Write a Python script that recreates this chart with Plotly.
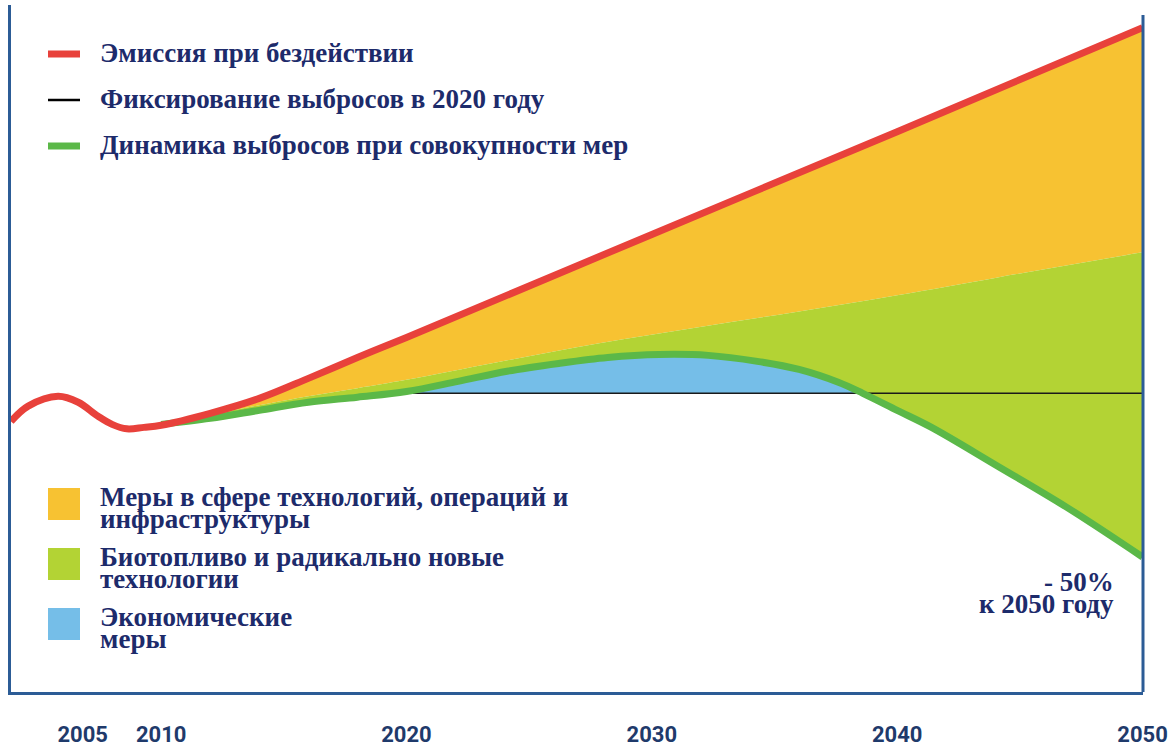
import plotly.graph_objects as go

# ---------------- data (index, fixed 2020 level = 100) ----------------
red_years = [2003.88, 2004.58, 2005.8, 2006.62, 2007.43, 2008.0, 2008.6, 2009.3, 2010,
             2012, 2014, 2016, 2018, 2020, 2030, 2040, 2050]
red_vals = [90.6, 95.7, 99.0, 97.0, 92.3, 89.6, 88.1, 88.6, 89.3,
            93.3, 98.3, 105.0, 112.0, 118.7, 153.2, 187.6, 222.4]

green_years = [2010, 2012, 2014, 2016, 2018, 2020, 2022.1, 2024.1, 2026.2, 2028.2,
               2030.3, 2032.3, 2034.3, 2036.0, 2037.6, 2038.6, 2040.0, 2041.4,
               2044.1, 2046.9, 2050]
green_vals = [89.6, 91.6, 94.3, 97.0, 98.7, 100.6, 104.0, 107.4, 110.0, 112.0,
              113.0, 112.7, 110.7, 108.0, 103.7, 100.0, 94.3, 88.6,
              75.6, 61.9, 45.2]

lime_years = [2010, 2014, 2016, 2018, 2020, 2023.7, 2027.8, 2031.9, 2036.0,
              2040.0, 2044.1, 2050]
lime_vals = [89.6, 96.0, 99.0, 101.7, 104.5, 110.4, 116.7, 122.1, 127.4,
             132.8, 138.8, 147.2]

fixed_years = [2020, 2050]
fixed_level = 100.0
blue_end_year = 2038.6

tick_positions = [2006.8, 2010, 2020, 2030, 2040, 2050]
tick_labels = ["2005", "2010", "2020", "2030", "2040", "2050"]

line_labels = ["Эмиссия при бездействии", "Фиксирование выбросов в 2020 году",
               "Динамика выбросов при совокупности мер"]
area_labels = [["Меры в сфере технологий, операций и", "инфраструктуры"],
               ["Биотопливо и радикально новые", "технологии"],
               ["Экономические", "меры"]]
note_lines = ["- 50%", "к 2050 году"]

# ---------------- style ----------------
RED = "#E8413B"
GREEN_LINE = "#5BB848"
LIME = "#B3D334"
ORANGE = "#F7C232"
BLUE = "#75BEE8"
NAVY = "#1D2B6B"
AXIS = "#2C5C96"
SERIF = "Liberation Serif, DejaVu Serif, serif"
FS = 27

W, H = 1168, 748
L, R, T, B = 11, 25, 5, 56

fig = go.Figure()

# orange area: between lime top and red line (from 2010)
i10 = red_years.index(2010)
fig.add_trace(go.Scatter(x=lime_years, y=lime_vals, mode="lines", line=dict(width=0, shape="spline"),
                         hoverinfo="skip", showlegend=False))
fig.add_trace(go.Scatter(x=red_years[i10:], y=red_vals[i10:], mode="lines",
                         line=dict(width=0, shape="spline"), fill="tonexty", fillcolor=ORANGE,
                         hoverinfo="skip", showlegend=False))
# lime area: between green line and lime top
fig.add_trace(go.Scatter(x=green_years, y=green_vals, mode="lines", line=dict(width=0, shape="spline"),
                         hoverinfo="skip", showlegend=False))
fig.add_trace(go.Scatter(x=lime_years, y=lime_vals, mode="lines", line=dict(width=0, shape="spline"),
                         fill="tonexty", fillcolor=LIME, hoverinfo="skip", showlegend=False))
# blue area: between fixed level and green line where green is above
ib0 = green_years.index(2020)
ib1 = green_years.index(blue_end_year)
fig.add_trace(go.Scatter(x=[2020, blue_end_year], y=[fixed_level, fixed_level], mode="lines",
                         line=dict(width=0), hoverinfo="skip", showlegend=False))
fig.add_trace(go.Scatter(x=green_years[ib0:ib1 + 1], y=green_vals[ib0:ib1 + 1], mode="lines",
                         line=dict(width=0, shape="spline"), fill="tonexty", fillcolor=BLUE,
                         hoverinfo="skip", showlegend=False))
# fixed 2020 line
fig.add_trace(go.Scatter(x=fixed_years, y=[fixed_level] * len(fixed_years), mode="lines",
                         line=dict(color="#1a1a1a", width=1.5), showlegend=False))
# green line
fig.add_trace(go.Scatter(x=green_years, y=green_vals, mode="lines",
                         line=dict(color=GREEN_LINE, width=7, shape="spline"), showlegend=False))
# red line
fig.add_trace(go.Scatter(x=red_years, y=red_vals, mode="lines",
                         line=dict(color=RED, width=7, shape="spline"), showlegend=False))


def px(x):
    return (x - L) / (W - L - R)


def py(y):
    return (H - B - y) / (H - T - B)


shapes = []
annotations = []
# right frame line (starts slightly below the top)
shapes.append(dict(type="line", xref="paper", yref="paper", x0=1, x1=1, y0=0, y1=py(15),
                   line=dict(color=AXIS, width=3)))
# line legend
for lab, col, wid, yy in zip(line_labels, [RED, "#000000", GREEN_LINE], [7, 2.5, 7], [54, 100, 146]):
    shapes.append(dict(type="line", xref="paper", yref="paper", x0=px(48), x1=px(80),
                       y0=py(yy), y1=py(yy), line=dict(color=col, width=wid)))
    annotations.append(dict(xref="paper", yref="paper", x=px(98), y=py(yy - 1), text="<b>%s</b>" % lab,
                            showarrow=False, xanchor="left", yanchor="middle",
                            font=dict(family=SERIF, size=FS, color=NAVY)))
# area legend
for lines, col, top in zip(area_labels, [ORANGE, LIME, BLUE], [488, 548, 608]):
    shapes.append(dict(type="rect", xref="paper", yref="paper", x0=px(48), x1=px(80),
                       y0=py(top), y1=py(top + 32), fillcolor=col, line=dict(width=0)))
    for k, t in enumerate(lines):
        annotations.append(dict(xref="paper", yref="paper", x=px(98), y=py(top + 9 + 22 * k),
                                text="<b>%s</b>" % t, showarrow=False, xanchor="left",
                                yanchor="middle", font=dict(family=SERIF, size=FS, color=NAVY)))
for k, t in enumerate(note_lines):
    annotations.append(dict(xref="paper", yref="paper", x=px(1116), y=py(582 + 22 * k),
                            text="<b>%s</b>" % t, showarrow=False, xanchor="right",
                            yanchor="middle", font=dict(family=SERIF, size=FS, color=NAVY)))

fig.update_layout(
    width=W, height=H,
    margin=dict(l=L, r=R, t=T, b=B, autoexpand=False),
    paper_bgcolor="white", plot_bgcolor="white",
    showlegend=False,
    shapes=shapes, annotations=annotations,
    xaxis=dict(range=[2003.88, 2050.02], showgrid=False, zeroline=False, automargin=False,
               showline=True, linecolor=AXIS, linewidth=3,
               tickmode="array", tickvals=tick_positions, ticktext=tick_labels,
               ticks="", ticklabelstandoff=21, ticklabeloverflow="allow",
               tickfont=dict(family="Roboto, sans-serif", size=22, color="#1F3A6B",
                             weight="bold")),
    yaxis=dict(range=[0, 230], showgrid=False, zeroline=False, showticklabels=False, automargin=False,
               showline=True, mirror=False, linecolor=AXIS, linewidth=3, ticks=""),
)

fig.write_html("out.html", config={"displayModeBar": False},
               post_script="document.body.style.margin='0';document.body.style.overflow='hidden';")
